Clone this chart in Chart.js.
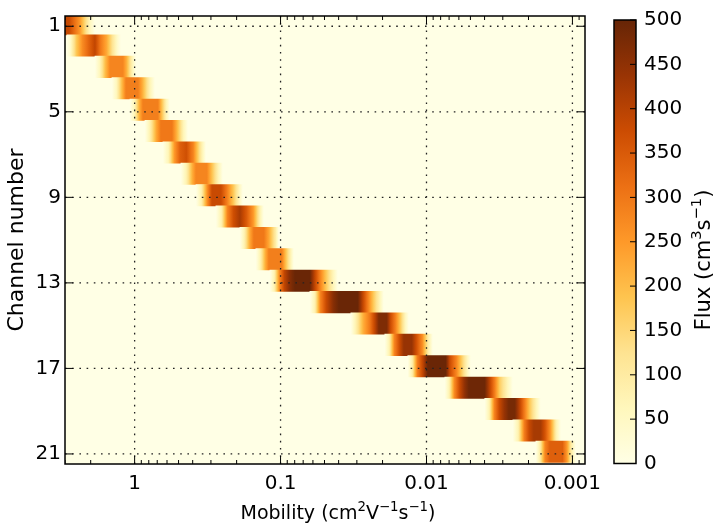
<!DOCTYPE html>
<html><head><meta charset="utf-8">
<script src="https://cdn.jsdelivr.net/npm/chart.js@4"></script>
<style>
html,body{margin:0;padding:0;background:#fff;}
#wrap{position:relative;width:717px;height:524px;overflow:hidden;}
#main{position:absolute;left:0;top:0;}
#cbar{position:absolute;left:600px;top:0;}
</style></head><body>
<div id="wrap"><canvas id="main" width="717" height="524"></canvas><canvas id="cbar" width="117" height="524"></canvas></div>
<script>
// ---- data ----
const channels = [1,2,3,4,5,6,7,8,9,10,11,12,13,14,15,16,17,18,19,20,21];
// mobility (cm2/V/s) control points across each channel's response, and flux at those points
const mobilityPoints = [
  [3.516, 2.818, 2.564, 2.370, 2.190, 2.024, 1.870],
  [2.909, 2.775, 2.504, 2.278, 2.072, 1.870, 1.715, 1.560, 1.419, 1.312, 1.241],
  [1.870, 1.742, 1.585, 1.476, 1.203, 1.138, 1.043, 0.980],
  [1.431, 1.332, 1.222, 1.147, 0.949, 0.891, 0.792, 0.726],
  [1.077, 1.003, 0.927, 0.877, 0.692, 0.655, 0.606, 0.573],
  [0.850, 0.786, 0.709, 0.661, 0.555, 0.517, 0.463, 0.431],
  [0.640, 0.587, 0.534, 0.489, 0.442, 0.396, 0.3515, 0.3248],
  [0.482, 0.442, 0.402, 0.380, 0.3197, 0.298, 0.2667, 0.2485],
  [0.380, 0.3487, 0.3172, 0.2954, 0.2563, 0.2350, 0.2105, 0.1915, 0.1812],
  [0.2774, 0.2543, 0.2313, 0.2105, 0.1900, 0.1715, 0.1536, 0.1386, 0.1302],
  [0.1900, 0.1770, 0.1623, 0.1524, 0.1302, 0.1203, 0.1085, 0.1027],
  [0.1477, 0.1375, 0.1271, 0.1203, 0.0980, 0.0927, 0.0857, 0.0811],
  [0.1184, 0.1103, 0.1019, 0.0942, 0.0864, 0.0798, 0.0630, 0.0587, 0.0542, 0.0497, 0.0442, 0.0405],
  [0.0630, 0.0582, 0.0534, 0.0486, 0.0435, 0.0399, 0.02955, 0.02752, 0.02543, 0.02314, 0.02089, 0.01962],
  [0.0330, 0.0305, 0.0271, 0.02445, 0.02242, 0.02122, 0.01870, 0.01769, 0.01636, 0.01512, 0.01397, 0.01322],
  [0.01931, 0.01798, 0.01661, 0.01524, 0.01430, 0.01261, 0.01175, 0.01069, 0.00972, 0.00905],
  [0.01343, 0.01251, 0.01156, 0.01052, 0.00980, 0.00738, 0.00693, 0.00625, 0.00569, 0.00525, 0.00497],
  [0.00749, 0.00698, 0.00645, 0.00591, 0.00547, 0.00513, 0.00399, 0.00371, 0.00343, 0.00315, 0.00280, 0.00256],
  [0.00399, 0.00371, 0.00343, 0.00317, 0.00293, 0.00273, 0.00248, 0.00231, 0.00214, 0.00196, 0.00177, 0.00165],
  [0.00256, 0.00235, 0.00214, 0.00198, 0.00184, 0.00165, 0.00154, 0.00142, 0.00129, 0.00120],
  [0.00178, 0.00166, 0.00154, 0.00143, 0.00117, 0.00109, 0.00102, 0.00095]
];
const fluxPoints = [
  [400, 380, 310, 250, 150, 60, 0],
  [0, 30, 180, 270, 330, 390, 300, 230, 120, 40, 0],
  [0, 60, 200, 280, 280, 220, 80, 0],
  [0, 60, 200, 290, 290, 230, 80, 0],
  [0, 70, 220, 290, 290, 200, 70, 0],
  [0, 80, 230, 300, 300, 220, 70, 0],
  [0, 70, 250, 340, 370, 280, 100, 0],
  [0, 80, 220, 280, 280, 200, 70, 0],
  [0, 80, 270, 380, 380, 300, 180, 60, 0],
  [0, 80, 280, 370, 420, 350, 250, 80, 0],
  [0, 80, 230, 300, 300, 230, 100, 0],
  [0, 80, 220, 290, 290, 200, 80, 0],
  [0, 80, 270, 390, 460, 495, 495, 400, 300, 200, 80, 0],
  [0, 80, 280, 380, 460, 495, 495, 400, 300, 180, 70, 0],
  [0, 80, 220, 300, 400, 470, 470, 380, 290, 180, 60, 0],
  [0, 80, 280, 380, 440, 440, 370, 270, 90, 0],
  [0, 90, 290, 400, 495, 495, 380, 280, 160, 60, 0],
  [0, 80, 270, 380, 450, 490, 490, 400, 300, 170, 70, 0],
  [0, 80, 280, 380, 440, 480, 480, 400, 300, 180, 70, 0],
  [0, 80, 290, 380, 420, 420, 360, 260, 80, 0],
  [0, 100, 280, 340, 340, 250, 100, 0]
];
const channelTicks = [1, 5, 9, 13, 17, 21];
const mobilityTicks = [1, 0.1, 0.01, 0.001];
const mobilityTickLabels = ['1', '0.1', '0.01', '0.001'];
const fluxTicks = [0, 50, 100, 150, 200, 250, 300, 350, 400, 450, 500];
// axis titles (segments; sup = superscript)
const xTitle = [{t: 'Mobility (cm'}, {t: '2', sup: true}, {t: 'V'}, {t: '\u22121', sup: true}, {t: 's'}, {t: '\u22121', sup: true}, {t: ')'}];
const yTitle = 'Channel number';
const cbarTitle = [{t: 'Flux (cm'}, {t: '3', sup: true}, {t: 's'}, {t: '\u22121', sup: true}, {t: ')'}];
// YlOrBr colormap
const cmapStops = ['#ffffe5','#fff7bc','#fee391','#fec44f','#fe9929','#ec7014','#cc4c02','#993404','#662506'];

// ---- styling / helpers ----
const FAMILY = "'DejaVu Sans', sans-serif";
Chart.defaults.font.family = FAMILY;
Chart.defaults.color = '#000';
const FONT = 20;
const rowShift = -0.1;
const fluxMax = fluxTicks[fluxTicks.length - 1];
const cmapRGB = cmapStops.map(h => [1,3,5].map(k => parseInt(h.substr(k,2),16)));
function cmap(v) {
  let t = Math.max(0, Math.min(1, v / fluxMax)) * (cmapRGB.length - 1);
  const i = Math.min(Math.floor(t), cmapRGB.length - 2), f = t - i;
  const a = cmapRGB[i], b = cmapRGB[i+1];
  return 'rgb(' + a.map((c,k) => Math.round(c + (b[k]-c)*f)).join(',') + ')';
}
function drawRich(ctx, segs, cx, cy, size, vertical) {
  ctx.save();
  ctx.translate(cx, cy);
  if (vertical) ctx.rotate(-Math.PI / 2);
  ctx.fillStyle = '#000';
  ctx.textAlign = 'left';
  ctx.textBaseline = 'alphabetic';
  const fontOf = s => (s.sup ? size * 0.7 : size) + 'px ' + FAMILY;
  let W = 0;
  segs.forEach(s => { ctx.font = fontOf(s); W += ctx.measureText(s.t).width; });
  let x = -W / 2;
  const base = size * 0.365;
  segs.forEach(s => {
    ctx.font = fontOf(s);
    ctx.fillText(s.t, x, s.sup ? base - size * 0.42 : base);
    x += ctx.measureText(s.t).width;
  });
  ctx.restore();
}
function rowGradient(context) {
  const chart = context.chart, xs = chart.scales.x, i = context.dataIndex;
  if (!xs || i === undefined) return cmapStops[0];
  const ms = mobilityPoints[i], fs = fluxPoints[i];
  const p = ms.map(m => xs.getPixelForValue(m));
  if (!p.every(Number.isFinite)) return cmapStops[0];
  const p0 = p[0], p1 = p[p.length-1], span = (p1 - p0) || 1;
  const g = chart.ctx.createLinearGradient(p0, 0, p1, 0);
  const clamp = o => Math.max(0, Math.min(1, o));
  for (let k = 0; k < p.length; k++) {
    if (k > 0) {
      for (let s = 1; s < 6; s++) {
        const f = s / 6;
        const px = p[k-1] + (p[k]-p[k-1]) * f;
        const v = fs[k-1] + (fs[k]-fs[k-1]) * f;
        g.addColorStop(clamp((px - p0) / span), cmap(v));
      }
    }
    g.addColorStop(clamp((p[k] - p0) / span), cmap(fs[k]));
  }
  return g;
}

const mainPlugin = {
  id: 'mainDecor',
  beforeDraw(chart) {
    const {ctx, chartArea: a} = chart;
    ctx.save();
    ctx.fillStyle = cmapStops[0];
    ctx.fillRect(a.left, a.top, a.right - a.left, a.bottom - a.top);
    ctx.restore();
  },
  afterDatasetsDraw(chart) {
    const {ctx, chartArea: a, scales: {x, y}} = chart;
    ctx.save();
    ctx.beginPath(); ctx.rect(a.left, a.top, a.right - a.left, a.bottom - a.top); ctx.clip();
    ctx.setLineDash([1.6, 5.6]);
    ctx.lineWidth = 1.3;
    ctx.strokeStyle = '#222';
    mobilityTicks.forEach(m => {
      const px = x.getPixelForValue(m);
      ctx.beginPath(); ctx.moveTo(px, a.top); ctx.lineTo(px, a.bottom); ctx.stroke();
    });
    channelTicks.forEach(c => {
      const py = y.getPixelForValue(c);
      ctx.beginPath(); ctx.moveTo(a.left, py); ctx.lineTo(a.right, py); ctx.stroke();
    });
    ctx.setLineDash([]);
    ctx.strokeStyle = '#000';
    ctx.lineWidth = 1;
    const tick = (x1, y1, x2, y2) => { ctx.beginPath(); ctx.moveTo(x1, y1); ctx.lineTo(x2, y2); ctx.stroke(); };
    const lo = x.min, hi = x.max;
    for (let d = Math.floor(Math.log10(lo)); d <= Math.ceil(Math.log10(hi)); d++) {
      for (let k = 1; k <= 9; k++) {
        const v = k * Math.pow(10, d);
        if (v < lo || v > hi) continue;
        const len = k === 1 ? 8 : 4;
        const px = x.getPixelForValue(v);
        tick(px, a.top, px, a.top + len);
        tick(px, a.bottom, px, a.bottom - len);
      }
    }
    channelTicks.forEach(c => {
      const py = y.getPixelForValue(c);
      tick(a.left, py, a.left + 8, py);
      tick(a.right, py, a.right - 8, py);
    });
    ctx.restore();
    ctx.save();
    ctx.strokeStyle = '#000'; ctx.lineWidth = 1.5;
    ctx.strokeRect(a.left, a.top, a.right - a.left, a.bottom - a.top);
    ctx.restore();
    // x-axis title with superscripts
    drawRich(ctx, xTitle, (a.left + a.right) / 2 + 13, 512, 19, false);
  }
};

const mainChart = new Chart(document.getElementById('main'), {
  type: 'bar',
  data: {
    datasets: [{
      data: channels.map((c, i) => ({ y: c + rowShift, x: [mobilityPoints[i][0], mobilityPoints[i][mobilityPoints[i].length - 1]] })),
      backgroundColor: rowGradient,
      borderWidth: 0,
      barPercentage: 1,
      categoryPercentage: 1
    }]
  },
  options: {
    indexAxis: 'y',
    responsive: false,
    animation: false,
    events: [],
    layout: { padding: { top: 14, right: 132, left: 0, bottom: 0 } },
    plugins: { legend: { display: false }, tooltip: { enabled: false } },
    scales: {
      x: {
        type: 'logarithmic', reverse: true, min: 0.00082, max: 3.0,
        afterBuildTicks: s => { s.ticks = mobilityTicks.map(v => ({ value: v, major: true })); },
        afterFit: s => { s.height = 60; },
        grid: { display: false, drawTicks: false },
        border: { display: false },
        ticks: { autoSkip: false, maxRotation: 0, padding: 8, color: '#000', font: { size: FONT },
          callback: (v, i) => mobilityTickLabels[i] },
        title: { display: false }
      },
      y: {
        type: 'linear', reverse: true, min: 0.52, max: 21.47, offset: false,
        afterBuildTicks: s => { s.ticks = channelTicks.map(v => ({ value: v })); },
        afterFit: s => { s.width = 65; },
        grid: { display: false, drawTicks: false },
        border: { display: false },
        ticks: { autoSkip: false, padding: 4, color: '#000', font: { size: FONT }, callback: v => String(v) },
        title: { display: true, text: yTitle, color: '#000', font: { size: 22 }, padding: { top: 4, bottom: 0 } }
      }
    }
  },
  plugins: [mainPlugin]
});
mainChart.update();

// ---- colorbar ----
function cbarGradient(context) {
  const chart = context.chart, ys = chart.scales.y;
  if (!ys) return cmapStops[4];
  const y0 = ys.getPixelForValue(fluxTicks[0]), y1 = ys.getPixelForValue(fluxMax);
  if (!Number.isFinite(y0) || !Number.isFinite(y1)) return cmapStops[4];
  const g = chart.ctx.createLinearGradient(0, y0, 0, y1);
  cmapStops.forEach((c, i) => g.addColorStop(i / (cmapStops.length - 1), c));
  return g;
}
const cbarPlugin = {
  id: 'cbarDecor',
  afterDatasetsDraw(chart) {
    const {ctx, chartArea: a, scales: {y}} = chart;
    ctx.save();
    ctx.strokeStyle = '#000'; ctx.lineWidth = 1;
    fluxTicks.forEach(v => {
      const py = y.getPixelForValue(v);
      ctx.beginPath(); ctx.moveTo(a.right, py); ctx.lineTo(a.right - 6, py); ctx.stroke();
    });
    ctx.lineWidth = 1.5;
    ctx.strokeRect(a.left, a.top, a.right - a.left, a.bottom - a.top);
    ctx.restore();
    drawRich(ctx, cbarTitle, 102, 260, 21, true);
  }
};
const cbarChart = new Chart(document.getElementById('cbar'), {
  type: 'bar',
  data: {
    labels: [''],
    datasets: [{ data: [[fluxTicks[0], fluxMax]], backgroundColor: cbarGradient, borderWidth: 0, barPercentage: 1, categoryPercentage: 1 }]
  },
  options: {
    responsive: false, animation: false, events: [],
    layout: { padding: { top: 14, bottom: 60.5, left: 14, right: 0 } },
    plugins: { legend: { display: false }, tooltip: { enabled: false } },
    scales: {
      x: { display: false, offset: true },
      y: {
        position: 'right', min: 0, max: fluxMax,
        afterBuildTicks: s => { s.ticks = fluxTicks.map(v => ({ value: v })); },
        afterFit: s => { s.width = 81; },
        grid: { display: false, drawTicks: false },
        border: { display: false },
        ticks: { autoSkip: false, padding: 8, color: '#000', font: { size: FONT } }
      }
    }
  },
  plugins: [cbarPlugin]
});
cbarChart.update();
</script>
</body></html>
